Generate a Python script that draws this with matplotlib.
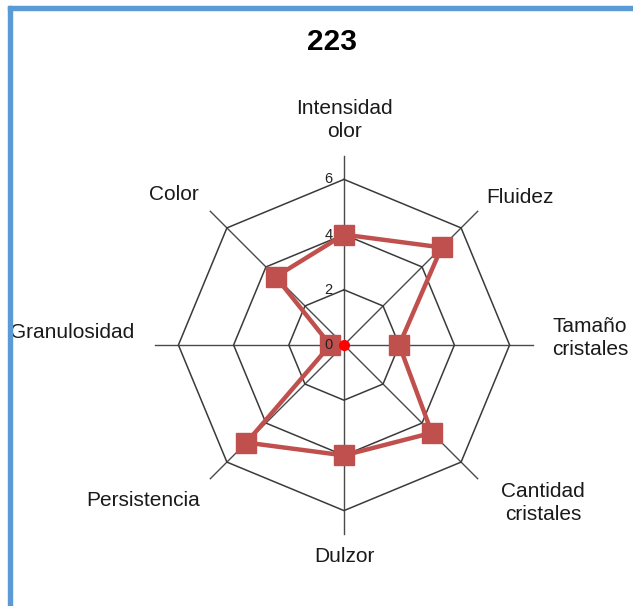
import numpy as np
import matplotlib
matplotlib.use("Agg")
import matplotlib.pyplot as plt
from matplotlib.patches import Rectangle

# Sensory profile of sample 223
title = "223"
categories = ["Intensidad\nolor", "Fluidez", "Tamaño\ncristales", "Cantidad\ncristales",
              "Dulzor", "Persistencia", "Granulosidad", "Color"]
values = [4, 5, 2, 4.5, 4, 5, 0.5, 3.5]
origin_values = [0]
ring_ticks = [0, 2, 4, 6]
r_max = 6

plt.rcParams['font.family'] = ['Liberation Sans', 'DejaVu Sans']

W, H, DPI = 633, 606, 100
fig = plt.figure(figsize=(W / DPI, H / DPI), dpi=DPI)
ax = fig.add_axes([0, 0, 1, 1])
ax.set_axis_off()

# pixel geometry of the chart area
cx_px, cy_px = 344, 345          # centre, from top-left
unit_px = 27.6                   # pixels per unit of score
ax.set_xlim(-cx_px / unit_px, (W - cx_px) / unit_px)
ax.set_ylim(-(H - cy_px) / unit_px, cy_px / unit_px)
ax.set_aspect('equal')

n = len(categories)
angles = np.arange(n) * 2 * np.pi / n   # clockwise from top


def to_xy(r, a):
    return r * np.sin(a), r * np.cos(a)


# frame lines (top and left)
fig.patches.append(Rectangle((8 / W, 0), 4 / W, 1 - 6 / H, transform=fig.transFigure,
                             color='#5b9bd5', zorder=0))
fig.patches.append(Rectangle((8 / W, 1 - 10 / H), 1, 4 / H, transform=fig.transFigure,
                             color='#5b9bd5', zorder=0))

# spokes
spoke_len = 6.85
for a in angles:
    x, y = to_xy(np.array([0, spoke_len]), a)
    ax.plot(x, y, color='#4a4a4a', lw=1.0, zorder=1)

# octagonal rings
closed = np.append(angles, angles[0])
for t in ring_ticks[1:]:
    x, y = to_xy(t, closed)
    ax.plot(x, y, color='#3a3a3a', lw=1.1, zorder=1)

# ring tick labels along the top spoke
for t in ring_ticks:
    ax.text(-0.42, t, str(t), ha='right', va='center', fontsize=10.5, color='#222222',
            zorder=6)

# data series
vals = np.append(values, values[0])
x, y = to_xy(vals, closed)
ax.plot(x, y, color='#c0504d', lw=3.2, zorder=3, solid_joinstyle='miter')
ax.plot(x[:-1], y[:-1], ls='none', marker='s', ms=14.5, color='#c0504d', zorder=4)

# origin marker
ax.plot([0], origin_values, ls='none', marker='o', ms=7, color='#ff0000', zorder=5)

# category labels (pixel positions converted to data units)
label_px = [(344, 120), (520, 197), (590, 338), (543, 503),
            (344, 556), (143, 500), (72, 332), (174, 194)]
for lab, (px, py) in zip(categories, label_px):
    ax.text((px - cx_px) / unit_px, (cy_px - py) / unit_px, lab, ha='center', va='center',
            fontsize=15, color='#1a1a1a', linespacing=1.25)

fig.text(332.5 / W, 1 - 42 / H, title, ha='center', va='center', fontsize=21.5,
         fontweight='bold', color='black')

fig.savefig("out.png", dpi=DPI, facecolor='white')
